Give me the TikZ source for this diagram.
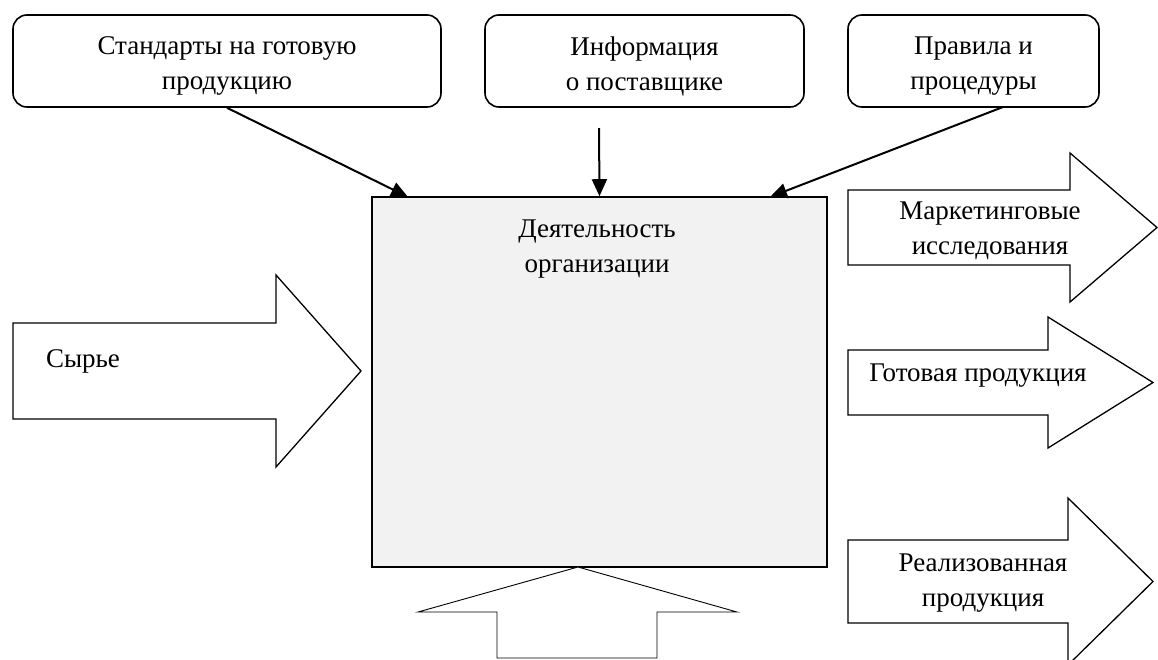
\documentclass[tikz,border=0pt]{standalone}
\usepackage{fontspec}
\setmainfont{Liberation Serif}
\usetikzlibrary{arrows.meta}
\definecolor{boxgray}{HTML}{F2F2F2}
\tikzset{
  x=1pt, y=-1pt,
  lbl/.style={font=\fontsize{27}{35}\selectfont, align=center, inner sep=0pt},
  topbox/.style={draw, line width=1.6pt, rounded corners=14pt, minimum height=92pt, lbl},
  mainbox/.style={draw, line width=1.6pt, fill=boxgray, minimum width=455pt, minimum height=370pt, inner sep=0pt},
  blockarrow/.style={draw, line width=1.3pt, fill=white, line join=miter},
  thinarrow/.style={draw, line width=0.9pt, fill=white, line join=miter},
  conn/.style={line width=2pt, -{Triangle[length=17pt,width=15pt]}}
}
\begin{document}
\begin{tikzpicture}
\clip (0,0) rectangle (1158,659);
\fill[white] (0,0) rectangle (1158,659);

% top boxes
\node[topbox, minimum width=428pt] (b1) at (227,61) {};
\node[lbl] (b1t) at (227,66) {Стандарты на готовую\\продукцию};
\node[topbox, minimum width=319pt] (b2) at (644.5,61) {};
\node[lbl] (b2t) at (644.5,66) {Информация\\о поставщике};
\node[topbox, minimum width=251pt] (b3) at (973.5,61) {};
\node[lbl] (b3t) at (973.5,66) {Правила и\\процедуры};

% main box
\node[mainbox] (main) at (599.5,382) {};
\node[lbl] (mainlbl) at (597,249) {Деятельность\\организации};

% connectors
\coordinate (a1e) at (408,197);
\coordinate (a2s) at (599,128);
\coordinate (a3s) at (1003,107);
\coordinate (a3e) at (770,197);
\draw[conn] (b1.south) -- (a1e);
\draw[conn] (a2s) -- (main.north);
\draw[conn] (a3s) -- (a3e);

% input arrow: Сырье
\draw[blockarrow] (13,323) -- (276,323) -- (276,275) -- (361,371) -- (276,467) -- (276,419) -- (13,419) -- cycle;
\node[lbl] (syr) at (83,361) {Сырье};

% output arrows
\draw[blockarrow] (848,190) -- (1070,190) -- (1070,153) -- (1157,227.5) -- (1070,302) -- (1070,265) -- (848,265) -- cycle;
\node[lbl] (mark) at (990,231) {Маркетинговые\\исследования};

\draw[blockarrow] (848,350) -- (1048,350) -- (1048,317) -- (1153,382.5) -- (1048,448) -- (1048,415) -- (848,415) -- cycle;
\node[lbl] (got) at (978,376) {Готовая продукция};

\draw[blockarrow] (848,540) -- (1068,540) -- (1068,498) -- (1153,581.5) -- (1068,665) -- (1068,623) -- (848,623) -- cycle;
\node[lbl] (real) at (983,583) {Реализованная\\продукция};

% bottom arrow
\draw[thinarrow] (578,567) -- (737,612) -- (657,612) -- (657,658) -- (497,658) -- (497,612) -- (418,612) -- cycle;
\end{tikzpicture}
\end{document}
